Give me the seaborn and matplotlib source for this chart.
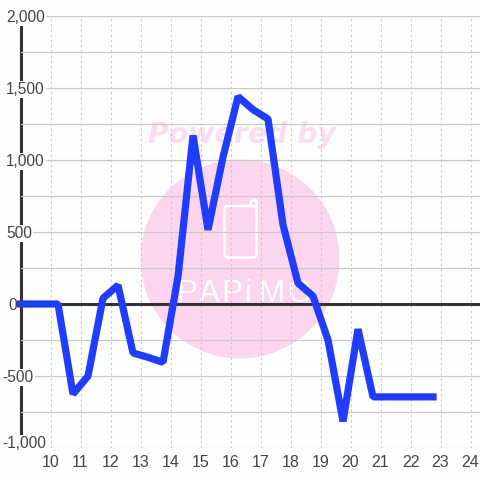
import numpy as np
import matplotlib
matplotlib.use('Agg')
import matplotlib.pyplot as plt
import seaborn as sns
from matplotlib.patches import Circle, FancyBboxPatch
from matplotlib.transforms import ScaledTranslation

hours = [9, 10.25, 10.75, 11.25, 11.75, 12.25, 12.75, 13.25, 13.75, 14.25, 14.75, 15.25, 15.75,
         16.25, 16.75, 17.25, 17.75, 18.25, 18.75, 19.25, 19.75, 20.25, 20.75, 21.25, 21.75, 22.25, 22.75]
values = [0, 0, -625, -500, 40, 130, -340, -370, -405, 190, 1170, 515, 1020,
          1440, 1350, 1285, 550, 145, 55, -250, -815, -175, -645, -645, -645, -645, -645]
x_ticks = list(range(10, 25))
y_major = [-1000, -500, 0, 500, 1000, 1500, 2000]
y_minor = [-750, -250, 250, 750, 1250, 1750]
logo_letters = ['P', 'A', 'P', 'i', 'M', 'O']
logo_x = [187, 209, 232, 248, 271, 300]

sns.set_theme(style='white')
plt.rcParams['font.family'] = ['Liberation Sans', 'DejaVu Sans']

GREY = '#c8c8c8'
DARK = '#333333'
TEXT = '#444444'
PINK = '#fbd6ee'
BG = '#fdfffd'

fig = plt.figure(figsize=(4.8, 4.8), dpi=100, facecolor=BG)

# watermark sits under the axes, in pixels
wm = fig.add_axes([0, 0, 1, 1], zorder=0)
wm.set_xlim(0, 480)
wm.set_ylim(480, 0)
wm.axis('off')
wm.add_patch(Circle((240, 259), 99.5, fc=PINK, ec='none'))
wm.add_patch(FancyBboxPatch((224.5, 206), 32, 51.5, boxstyle='round,pad=0,rounding_size=4',
                            fc='none', ec=BG, lw=1.8))
wm.plot([249.5, 252, 256.5, 256.5], [206, 200.5, 200.5, 212], color=BG, lw=1.8, solid_joinstyle='round')
wm.text(242, 135, 'Powered by', color='#fcdcf1', fontsize=20.4, fontweight='bold', style='italic',
        family='DejaVu Sans', ha='center', va='center')
for ch, lx in zip(logo_letters, logo_x):
    wm.text(lx, 302, ch, color=BG, fontsize=22.5, ha='center', va='baseline')

ax = fig.add_axes([20.5 / 480, 1 - 448 / 480, 459.5 / 480, 432 / 480], zorder=1)
ax.patch.set_alpha(0)
ax.set_xlim(9, 9 + 459.5 / 30)
ax.set_ylim(-1000, 2000)

for s in ax.spines.values():
    s.set_visible(False)

ax.set_yticks(y_major)
ax.set_yticks(y_minor, minor=True)
ax.set_xticks(x_ticks)
ax.set_axisbelow(True)
ax.grid(True, axis='y', which='both', color=GREY, lw=0.85)
ax.grid(True, axis='x', color=GREY, lw=0.75, ls=(0, (2.2, 2.8)))
ax.tick_params(axis='both', which='both', length=0)
ax.tick_params(axis='x', labelsize=11.5, labelcolor=TEXT, pad=5)
ax.tick_params(axis='y', labelsize=11.2, labelcolor=TEXT, pad=10.4)
ax.set_xticklabels(x_ticks)
ax.set_yticklabels([f'{v:,}' for v in y_major])
for lab, v in zip(ax.get_yticklabels(), y_major):
    lab.set_ha('left')
    lab.set_bbox(dict(fc=BG, ec='none', pad=1))
    dx = -4 if v < 0 else (2 if v == 0 else 0)
    dy = 6 if v == -1000 else 0
    lab.set_transform(lab.get_transform() + ScaledTranslation(dx / 100, dy / 100, fig.dpi_scale_trans))

# left axis line goes under the label boxes
ax.axvline(9, color=DARK, lw=2.2, zorder=0.1, clip_on=False)
ax.axhline(0, color=DARK, lw=2.2, zorder=2)
sns.lineplot(x=hours, y=values, ax=ax, color='#1f3cff', linewidth=5.2, zorder=4, clip_on=False,
             solid_capstyle='projecting', solid_joinstyle='bevel', errorbar=None, sort=False)

fig.savefig('out.png', dpi=100, facecolor=fig.get_facecolor())
